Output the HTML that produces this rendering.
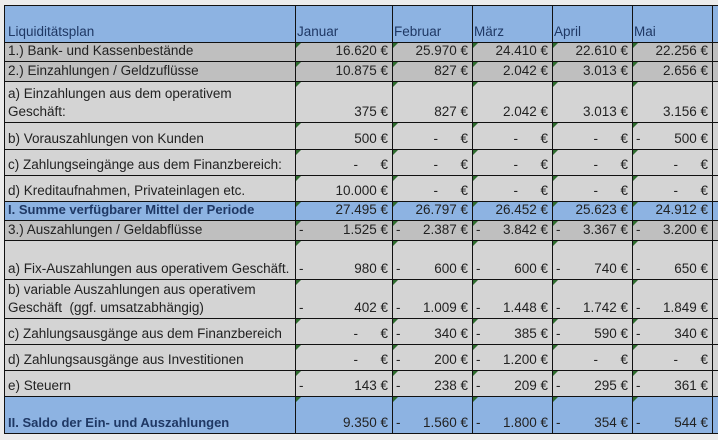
<!DOCTYPE html>
<html><head><meta charset="utf-8"><style>
body{margin:0;width:718px;height:440px;overflow:hidden;background:#ececec;font-family:"Liberation Sans",sans-serif;font-size:13.5px;color:#222}
.c{position:absolute;box-sizing:border-box;border-right:1px solid #111;border-bottom:1px solid #111;overflow:hidden;white-space:pre}
.t{position:absolute;left:3px;bottom:1px;line-height:18px}
.v{position:absolute;right:4px;bottom:1px;line-height:18px}
.m{position:absolute;left:3px;bottom:1px;line-height:18px}
.tri{position:absolute;left:0;top:0;width:0;height:0;border-top:5px solid #2d6b2d;border-right:5px solid transparent}
</style></head><body>
<div id="sheet"></div>
<script>
const months=["Januar","Februar","März","April","Mai"];
const labels=[["Liquiditätsplan"],["1.) Bank- und Kassenbestände"],["2.) Einzahlungen / Geldzuflüsse"],["a) Einzahlungen aus dem operativem","Geschäft:"],["b) Vorauszahlungen von Kunden"],["c) Zahlungseingänge aus dem Finanzbereich:"],["d) Kreditaufnahmen, Privateinlagen etc."],["I. Summe verfügbarer Mittel der Periode"],["3.) Auszahlungen / Geldabflüsse"],["a) Fix-Auszahlungen aus operativem Geschäft."],["b) variable Auszahlungen aus operativem","Geschäft  (ggf. umsatzabhängig)"],["c) Zahlungsausgänge aus dem Finanzbereich"],["d) Zahlungsausgänge aus Investitionen"],["e) Steuern"],["II. Saldo der Ein- und Auszahlungen"]];
const values=[null,
["16.620","25.970","24.410","22.610","22.256"],
["10.875","827","2.042","3.013","2.656"],
["375","827","2.042","3.013","3.156"],
["500","-","-","-","500"],
["-","-","-","-","-"],
["10.000","-","-","-","-"],
["27.495","26.797","26.452","25.623","24.912"],
["1.525","2.387","3.842","3.367","3.200"],
["980","600","600","740","650"],
["402","1.009","1.448","1.742","1.849"],
["-","340","385","590","340"],
["-","200","1.200","-","-"],
["143","238","209","295","361"],
["9.350","1.560","1.800","354","544"]];
const negative=[null,
[0,0,0,0,0],[0,0,0,0,0],[0,0,0,0,0],[0,0,0,0,1],[0,0,0,0,0],[0,0,0,0,0],[0,0,0,0,0],
[1,1,1,1,1],[1,1,1,1,1],[1,1,1,1,1],[0,1,1,1,1],[0,1,1,0,0],[1,1,1,1,1],[0,1,1,1,1]];
const rowY=[5,43,62,82,123,150,176,202,221,241,280,319,345,371,397,434];
const colX=[4,296,393,473,553,633,713,730];
const rowBg=["#8db3e2","#bfbfbf","#bfbfbf","#d4d4d4","#d4d4d4","#d4d4d4","#d4d4d4","#8db3e2","#bfbfbf","#d4d4d4","#d4d4d4","#d4d4d4","#d4d4d4","#d4d4d4","#8db3e2"];
const sheet=document.getElementById('sheet');
for(let r=0;r<labels.length;r++){
 for(let c=0;c<7;c++){
  const d=document.createElement('div');
  d.className='c';
  d.style.left=colX[c]+'px';d.style.top=rowY[r]+'px';
  d.style.width=(colX[c+1]-colX[c])+'px';d.style.height=(rowY[r+1]-rowY[r])+'px';
  d.style.background=rowBg[r];
  if(c===0){d.style.borderLeft='1px solid #111';}
  if(r===0){d.style.borderTop='1px solid #111';}
  if(c===0){
   
   
   const t=document.createElement('div');t.className='t';
   t.innerHTML=labels[r].join('<br>');
   if(r===7||r===14){t.style.fontWeight='bold';t.style.color='#1f3864';t.style.fontSize='13px';}
   if(r===0){t.style.color='#1f3864';}
   d.appendChild(t);
  }else if(c<6){
   if(r===0){
    
    
    const t=document.createElement('div');t.className='t';t.style.left='1px';t.style.color='#1f3864';t.textContent=months[c-1];d.appendChild(t);
   }else{
    
    
    const tri=document.createElement('div');tri.className='tri';d.appendChild(tri);
    const val=values[r][c-1];
    const v=document.createElement('div');v.className='v';
    v.textContent=val==='-'?'-      €':val+' €';
    d.appendChild(v);
    if(negative[r][c-1]){const m=document.createElement('div');m.className='m';m.textContent='-';d.appendChild(m);}
   }
  }else{
   
   
  }
  sheet.appendChild(d);
 }
}
</script>
</body></html>
